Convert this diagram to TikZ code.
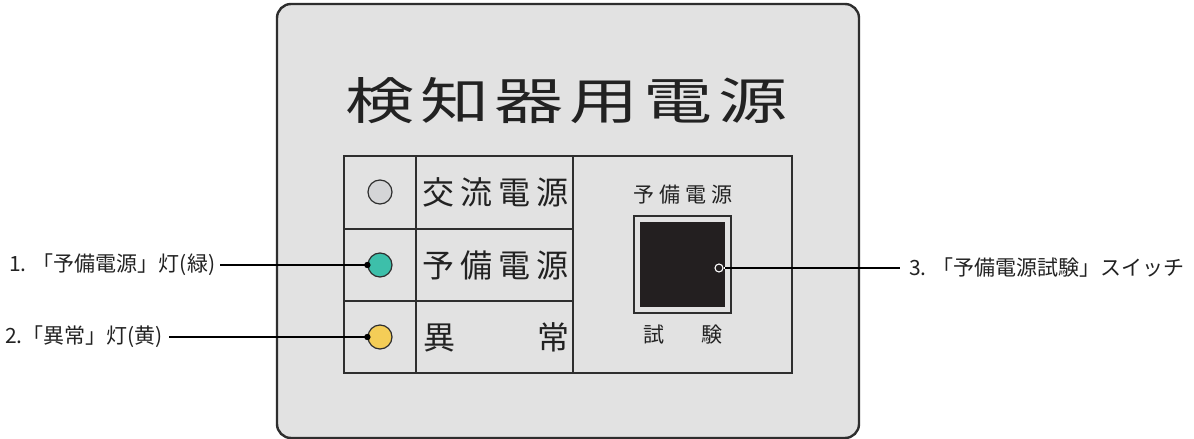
\documentclass[tikz,border=0pt]{standalone}
\usepackage{fontspec}
\setmainfont{Noto Sans CJK JP}
\definecolor{panelfill}{HTML}{E2E2E2}
\definecolor{edge}{HTML}{2E2E2E}
\definecolor{ledgray}{HTML}{D4D5D7}
\definecolor{ledgreen}{HTML}{3DBFAA}
\definecolor{ledyellow}{HTML}{F4CD57}
\definecolor{swblack}{HTML}{231F20}
\definecolor{txt}{HTML}{222222}
\tikzset{
  panelbox/.style={draw=edge, line width=2.4pt, fill=panelfill, rounded corners=14pt, inner sep=0pt},
  grid/.style={draw=edge, line width=1.3pt},
  led/.style={circle, draw=edge, line width=1.2pt, minimum size=24pt, inner sep=0pt},
  cell/.style={inner sep=0pt, text=txt, font=\fontsize{32}{32}\selectfont},
  small/.style={inner sep=0pt, text=txt, font=\fontsize{21}{21}\selectfont},
  leader/.style={draw=black, line width=1.3pt},
}
\begin{document}
\begin{tikzpicture}[x=1pt,y=-1pt]
\useasboundingbox[fill=white] (0,0) rectangle (1194,439);
% panel
\node[panelbox, minimum width=582pt, minimum height=434pt] (panel) at (568,221) {};
% title
\node[inner sep=0pt, text=txt] (title) at (566.5,101)
  {\scalebox{1.38}[1]{\fontsize{50}{50}\selectfont\makebox[320pt][s]{検\hfill 知\hfill 器\hfill 用\hfill 電\hfill 源}}};
% table
\draw[grid] (344,156) rectangle (792,373);
\draw[grid] (416,156) -- (416,373);
\draw[grid] (573,156) -- (573,373);
\draw[grid] (344,229) -- (573,229);
\draw[grid] (344,301) -- (573,301);
% LEDs
\node[led, fill=ledgray] (led1) at (380,192) {};
\node[led, fill=ledgreen] (led2) at (380,265) {};
\node[led, fill=ledyellow] (led3) at (380,337) {};
% row texts
\node[cell] (t1) at (495.5,192) {\makebox[147pt][s]{交\hfill 流\hfill 電\hfill 源}};
\node[cell] (t2) at (495.5,265) {\makebox[147pt][s]{予\hfill 備\hfill 電\hfill 源}};
\node[cell] (t3) at (496.5,337) {\makebox[147pt][s]{異\hfill 常}};
% switch
\node[small] (swlabel) at (683,195) {\makebox[100pt][s]{予\hfill 備\hfill 電\hfill 源}};
\node[draw=edge, line width=1.4pt, fill=panelfill, minimum size=97pt, inner sep=0pt] (swout) at (682.5,264.5) {};
\node[fill=swblack, minimum size=85pt, inner sep=0pt] (swin) at (682.5,264.5) {};
\node[small] (swtest) at (683,335) {\makebox[80pt][s]{試\hfill 験}};
\node[circle, draw=white, fill=swblack, line width=1.1pt, minimum size=8pt, inner sep=0pt] (swdot) at (719,268) {};
\coordinate (swedge) at (swin.east |- swdot);
% labels
\node[small, anchor=west] (lab1) at (9,265) {1. 「予備電源」灯(緑)};
\node[small, anchor=west] (lab2) at (5,337) {2.「異常」灯(黄)};
\node[small, anchor=west] (lab3) at (909,268) {3. 「予備電源試験」スイッチ};
% leaders
\draw[leader] ([xshift=5pt]lab1.east) -- (led2.west);
\fill (led2.west) circle (3.2pt);
\draw[leader] ([xshift=6pt]lab2.east) -- (led3.west);
\fill (led3.west) circle (3.2pt);
\draw[leader] (swedge) -- ([xshift=-9pt]lab3.west);
\draw[white, line width=1.3pt] (swdot.east) -- (swedge);
\end{tikzpicture}
\end{document}
